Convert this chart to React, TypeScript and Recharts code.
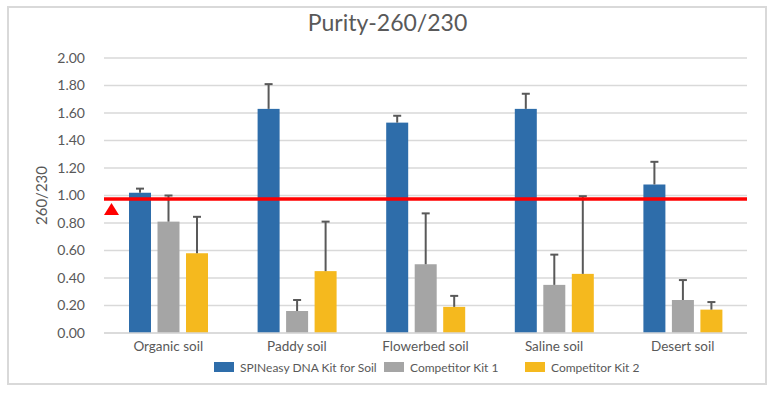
import React from 'react';
import { BarChart, Bar, XAxis, YAxis, CartesianGrid, ReferenceLine, Legend } from 'recharts';

const categories = ['Organic soil', 'Paddy soil', 'Flowerbed soil', 'Saline soil', 'Desert soil'];
const spinValues = [1.02, 1.63, 1.53, 1.63, 1.08];
const spinErrors = [0.03, 0.18, 0.05, 0.11, 0.165];
const kit1Values = [0.81, 0.16, 0.5, 0.35, 0.24];
const kit1Errors = [0.19, 0.08, 0.37, 0.22, 0.145];
const kit2Values = [0.58, 0.45, 0.19, 0.43, 0.17];
const kit2Errors = [0.265, 0.36, 0.08, 0.565, 0.055];
const yTicks = [0, 0.2, 0.4, 0.6, 0.8, 1.0, 1.2, 1.4, 1.6, 1.8, 2.0];
const threshold = 0.975;
const seriesNames = ['SPINeasy DNA Kit for Soil', 'Competitor Kit 1', 'Competitor Kit 2'];
const title = 'Purity-260/230';
const yLabel = '260/230';

const COLORS = ['#2E6DAA', '#A5A5A5', '#F5B91E'];
const TEXT = '#595959';
const FONT = 'Lato, "Open Sans", sans-serif';

const data = categories.map((c, i) => ({
  name: c,
  spin: spinValues[i],
  spinErr: spinErrors[i],
  kit1: kit1Values[i],
  kit1Err: kit1Errors[i],
  kit2: kit2Values[i],
  kit2Err: kit2Errors[i],
}));

const makeShape = (errKey: string) => (props: any) => {
  const { x, y, width, height, fill, payload, value } = props;
  const v = Array.isArray(value) ? value[1] - value[0] : value;
  const err = payload[errKey];
  const ppu = v ? height / v : 0;
  const ey = y - err * ppu;
  const cx = x + width / 2;
  return (
    <g>
      <rect x={x} y={y} width={width} height={height} fill={fill} />
      <line x1={cx} y1={y} x2={cx} y2={ey} stroke="#595959" strokeWidth={2} />
      <line x1={cx - 4} y1={ey} x2={cx + 4} y2={ey} stroke="#595959" strokeWidth={2} />
    </g>
  );
};

const TriangleLabel = (props: any) => {
  const { viewBox } = props;
  const x = viewBox.x;
  const y = viewBox.y;
  return <polygon points={`${x + 7.5},${y + 4} ${x},${y + 16} ${x + 15},${y + 16}`} fill="#FF0000" />;
};

const LegendContent = () => {
  const widths = [170, 141, 150];
  return (
    <div style={{ display: 'flex', paddingLeft: 214, fontFamily: FONT, fontSize: 12, color: TEXT, height: 20, alignItems: 'center' }}>
      {seriesNames.map((n, i) => (
        <div key={n} style={{ display: 'flex', alignItems: 'center', width: widths[i] }}>
          <span style={{ display: 'inline-block', width: 20, height: 10, background: COLORS[i], marginRight: 6 }} />
          <span>{n}</span>
        </div>
      ))}
    </div>
  );
};

export default function App() {
  return (
    <div style={{ position: 'absolute', left: 0, top: 0, width: 775, height: 396, background: '#fff' }}>
      <div
        style={{
          position: 'absolute',
          left: 7,
          top: 6,
          width: 760,
          height: 379,
          border: '2px solid #D9D9D9',
          boxSizing: 'border-box',
        }}
      />
      <div
        style={{
          position: 'absolute',
          left: 0,
          top: 8,
          width: 775,
          textAlign: 'center',
          fontFamily: FONT,
          fontSize: 23,
          color: TEXT,
        }}
      >
        {title}
      </div>
      <div style={{ position: 'absolute', left: 0, top: 0 }}>
        <BarChart
          width={775}
          height={396}
          data={data}
          margin={{ top: 58, right: 28, bottom: 33, left: 30 }}
          barSize={22}
          barGap={6.5}
        >
          <CartesianGrid vertical={false} stroke="#D9D9D9" strokeWidth={1.5} />
          <XAxis
            dataKey="name"
            height={30}
            tickLine={false}
            axisLine={{ stroke: '#D9D9D9', strokeWidth: 1.5 }}
            tickSize={6}
            tickMargin={2}
            tick={{ fill: TEXT, fontSize: 13.5, fontFamily: FONT }}
            interval={0}
          />
          <YAxis
            width={74}
            domain={[0, 2]}
            ticks={yTicks}
            tickFormatter={(v: number) => v.toFixed(2)}
            axisLine={false}
            tickLine={false}
            tickSize={6}
            tickMargin={13}
            tick={{ fill: TEXT, fontSize: 14, fontFamily: FONT }}
            label={{
              value: yLabel,
              angle: -90,
              position: 'insideLeft',
              offset: 12,
              style: { textAnchor: 'middle', fill: TEXT, fontSize: 15, fontFamily: FONT },
            }}
          />
          <Bar dataKey="spin" name={seriesNames[0]} fill={COLORS[0]} isAnimationActive={false} shape={makeShape('spinErr')} />
          <Bar dataKey="kit1" name={seriesNames[1]} fill={COLORS[1]} isAnimationActive={false} shape={makeShape('kit1Err')} />
          <Bar dataKey="kit2" name={seriesNames[2]} fill={COLORS[2]} isAnimationActive={false} shape={makeShape('kit2Err')} />
          <ReferenceLine y={threshold} stroke="#FF0000" strokeWidth={3.5} label={<TriangleLabel />} />
          <Legend
            layout="horizontal"
            verticalAlign="middle"
            align="center"
            content={<LegendContent />}
            wrapperStyle={{ position: 'absolute', top: 357, left: 0, width: 775, height: 20 }}
          />
        </BarChart>
      </div>
    </div>
  );
}
